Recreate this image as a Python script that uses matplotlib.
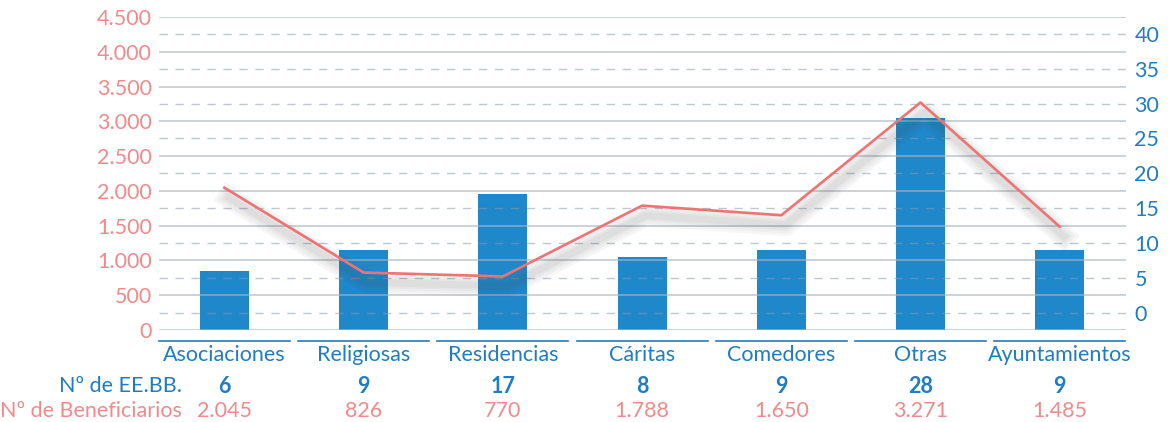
import matplotlib.pyplot as plt
import matplotlib.patheffects as pe

plt.rcParams['font.family'] = ['Lato', 'DejaVu Sans']
plt.rcParams['lines.scale_dashes'] = False

categorias = ['Asociaciones', 'Religiosas', 'Residencias', 'Cáritas',
              'Comedores', 'Otras', 'Ayuntamientos']
num_eebb = [6, 9, 17, 8, 9, 28, 9]
num_beneficiarios = [2045, 826, 770, 1788, 1650, 3271, 1485]

azul = '#1F88CA'
azul_txt = '#1E7DC3'
salmon = '#F07272'
salmon_txt = '#F38989'


def miles(v):
    return f'{v:,}'.replace(',', '.')


fig = plt.figure(figsize=(11.71, 4.22), dpi=100)
ax = fig.add_axes([159 / 1171, 1 - 330 / 422, (1126 - 159) / 1171, 313 / 422])
ax2 = ax.twinx()

x = list(range(len(categorias)))

# barras (eje derecho), desde el borde inferior del eje
y2_min, y2_max = -2.44, 42.4
ax2.set_ylim(y2_min, y2_max)
ax2.bar(x, [v - y2_min for v in num_eebb], bottom=y2_min, width=0.352,
        color=azul, zorder=1)
ax2.set_yticks(range(0, 41, 5))
ax2.set_axisbelow(False)
ax2.grid(axis='y', color='#8C9AA8', alpha=0.55, linewidth=1.0,
         linestyle=(0, (6, 5.5)))
ax2.tick_params(axis='y', length=0, labelsize=15.5, labelcolor=azul_txt, pad=6)

# línea (eje izquierdo)
ax.set_zorder(ax2.get_zorder() + 1)
ax.patch.set_visible(False)
ax.set_ylim(0, 4500)
ax.set_yticks(range(0, 4501, 500))
ax.set_yticklabels([miles(v) for v in range(0, 4501, 500)])
ax.grid(axis='y', color='#A9B5C0', alpha=0.6, linewidth=1.4)
ax.tick_params(axis='y', length=0, labelsize=15.5, labelcolor=salmon_txt, pad=5)
sombra = [pe.SimpleLineShadow(offset=(3, -7), shadow_color='#404040',
                              alpha=0.045, linewidth=w) for w in (16, 12, 8, 5)]
ax.plot(x, num_beneficiarios, color=salmon, linewidth=1.9, zorder=5,
        path_effects=sombra + [pe.Normal()])

ax.set_xlim(-0.47, 6.476)
ax.set_xticks([])
for a in (ax, ax2):
    for s in a.spines.values():
        s.set_visible(False)

# separadores y etiquetas bajo el eje
trans = ax.get_xaxis_transform()
for i, cat in enumerate(categorias):
    ax.plot([i - 0.471, i + 0.471], [-0.035, -0.035], color=azul_txt,
            linewidth=1.2, transform=trans, clip_on=False)
    ax.text(i, -0.08, cat, transform=trans, ha='center', va='center',
            fontsize=15.5, color=azul_txt)
    ax.text(i, -0.18, str(num_eebb[i]), transform=trans, ha='center',
            va='center', fontsize=15.5, color=azul_txt, fontweight='bold')
    ax.text(i, -0.26, miles(num_beneficiarios[i]), transform=trans,
            ha='center', va='center', fontsize=15.5, color=salmon_txt)

fig.text(182 / 1171, 1 - 386 / 422, 'Nº de EE.BB.', ha='right', va='center',
         fontsize=15.5, color=azul_txt)
fig.text(182 / 1171, 1 - 411 / 422, 'Nº de Beneficiarios', ha='right',
         va='center', fontsize=15.5, color=salmon_txt)

fig.savefig('out.png', dpi=100)
